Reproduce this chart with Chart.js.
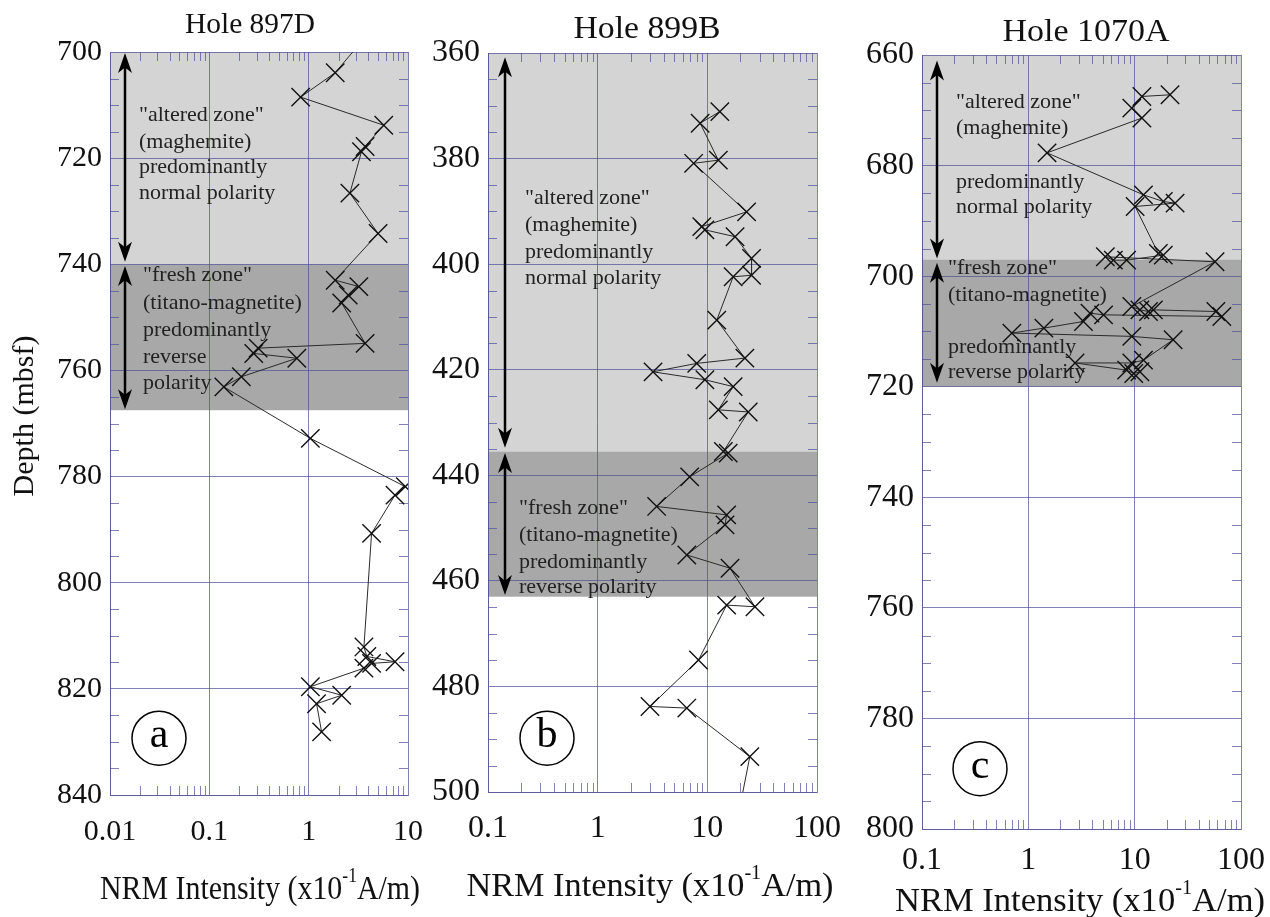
<!DOCTYPE html>
<html>
<head>
<meta charset="utf-8">
<script src="https://cdn.jsdelivr.net/npm/chart.js@4.4.0/dist/chart.umd.min.js"></script>
<style>
  html, body { margin: 0; padding: 0; background: #fff; }
  #wrap { position: relative; width: 1270px; height: 917px; }
  canvas { position: absolute; top: 0; }
</style>
</head>
<body>
<div id="wrap">
  <canvas id="hole897D" width="440" height="917" style="left:0px"></canvas>
  <canvas id="hole899B" width="430" height="917" style="left:420px"></canvas>
  <canvas id="hole1070A" width="420" height="917" style="left:850px"></canvas>
</div>
<script>
// Hole 897D (depth mbsf / NRM x10^-1 A/m), first point sits just above the plotted range
const depth897D = [697.5, 703.9, 708.5, 713.8, 717.8, 718.8, 726.6, 734.2, 743.0, 744.2, 745.8, 747.3,
  754.9, 755.8, 756.8, 757.7, 761.2, 763.1, 772.8, 781.9, 783.5, 790.7, 812.1, 813.9, 814.9, 815.2,
  816.1, 819.6, 821.2, 822.8, 828.1];
const nrm897D = [3.6, 1.85, 0.83, 5.7, 3.7, 3.4, 2.6, 5.0, 1.85, 3.2, 2.5, 2.15,
  3.7, 0.31, 0.28, 0.76, 0.21, 0.14, 1.04, 9.4, 7.4, 4.3, 3.6, 3.85, 7.4, 4.3,
  3.6, 1.04, 2.15, 1.2, 1.35];

// Hole 899B, last point just below the plotted range
const depth899B = [371.1, 373.3, 380.3, 380.9, 390.1, 392.9, 393.5, 394.8, 398.9, 402.1, 402.4, 410.6,
  417.8, 418.8, 420.4, 421.9, 423.2, 427.6, 428.0, 435.5, 435.8, 440.3, 445.9, 447.5, 449.4, 455.1,
  457.6, 464.9, 464.6, 475.0, 483.8, 484.1, 493.3, 501.5];
const nrm899B = [13.0, 8.6, 12.6, 7.5, 22.8, 8.9, 9.5, 17.9, 25.3, 25.3, 17.2, 12.2,
  22.0, 8.0, 3.2, 9.5, 17.2, 12.6, 23.6, 14.0, 15.5, 6.9, 3.45, 15.0, 14.5, 6.5,
  16.1, 27.2, 15.0, 8.3, 3.0, 6.5, 24.4, 20.4];

// Hole 1070A
const depth1070A = [667.2, 667.5, 669.6, 671.4, 677.7, 685.3, 686.5, 686.8, 687.4, 695.9, 696.2, 697.1,
  697.1, 696.5, 697.4, 705.5, 706.1, 706.4, 706.1, 706.4, 707.3, 707.0, 706.7, 708.2, 709.4, 710.3,
  710.9, 711.5, 715.2, 715.7, 715.7, 717.0, 717.6, 717.3];
const nrm1070A = [21.5, 11.7, 9.4, 11.7, 1.5, 12.1, 18.6, 24.0, 10.1, 16.7, 18.6, 8.4,
  6.3, 5.3, 57, 9.4, 11.2, 13.5, 15.0, 58, 66, 5.1, 3.8, 3.3, 1.4, 0.70,
  9.4, 23, 12.1, 9.4, 2.75, 8.4, 9.8, 11.2];

const xTicks897D = [0.01, 0.1, 1, 10];
const xTicks899B = [0.1, 1, 10, 100];
const xTicks1070A = [0.1, 1, 10, 100];
const yTicks897D = [700, 720, 740, 760, 780, 800, 820, 840];
const yTicks899B = [360, 380, 400, 420, 440, 460, 480, 500];
const yTicks1070A = [660, 680, 700, 720, 740, 760, 780, 800];

const SERIF = '"Liberation Serif", "Times New Roman", serif';
const GRID = 'rgba(80, 80, 150, 0.72)';
const LIGHT = '#d4d4d4';
const DARK = '#a8a8a8';

function drawArrowHead(ctx, x, y, dir) {
  const hl = 20, hw = 7;
  ctx.beginPath();
  ctx.moveTo(x, y);
  ctx.lineTo(x - hw, y + dir * hl);
  ctx.lineTo(x, y + dir * hl * 0.72);
  ctx.lineTo(x + hw, y + dir * hl);
  ctx.closePath();
  ctx.fill();
}

function fitText(ctx, parts, cx, cy, size, width) {
  // parts: [text, isSuperscript]
  const measure = p => {
    ctx.font = (p[1] ? Math.round(size * 0.6) : size) + 'px ' + SERIF;
    return ctx.measureText(p[0]).width;
  };
  const total = parts.reduce((s, p) => s + measure(p), 0);
  ctx.save();
  ctx.translate(cx, cy);
  ctx.scale(width / total, 1);
  let x = -total / 2;
  ctx.textAlign = 'left';
  ctx.textBaseline = 'middle';
  parts.forEach(p => {
    const w = measure(p);
    ctx.fillText(p[0], x, p[1] ? -size * 0.38 : 0);
    x += w;
  });
  ctx.restore();
}

function decorPlugin(o) {
  return {
    id: 'decor',
    beforeDraw(chart) {
      const { ctx, chartArea: a, scales: { y } } = chart;
      ctx.save();
      o.zones.forEach(z => {
        const y1 = y.getPixelForValue(z[0]), y2 = y.getPixelForValue(z[1]);
        ctx.fillStyle = z[2];
        ctx.fillRect(a.left, y1, a.right - a.left, y2 - y1);
      });
      ctx.restore();
    },
    beforeDatasetsDraw(chart) {
      const { ctx, chartArea: a, scales: { x, y } } = chart;
      ctx.save();
      // minor ticks, inward on all four sides
      ctx.strokeStyle = GRID;
      ctx.lineWidth = 1;
      ctx.beginPath();
      for (let d = y.min; d <= y.max; d += 5) {
        if (d % 20 === 0) continue;
        const py = Math.round(y.getPixelForValue(d)) + 0.5;
        ctx.moveTo(a.left, py); ctx.lineTo(a.left + 9, py);
        ctx.moveTo(a.right - 9, py); ctx.lineTo(a.right, py);
      }
      for (let dec = x.min; dec < x.max * 0.999; dec *= 10) {
        for (let m = 2; m <= 9; m++) {
          const px = Math.round(x.getPixelForValue(dec * m)) + 0.5;
          ctx.moveTo(px, a.top); ctx.lineTo(px, a.top + 9);
          ctx.moveTo(px, a.bottom - 9); ctx.lineTo(px, a.bottom);
        }
      }
      ctx.stroke();

      // zone arrows
      ctx.strokeStyle = '#000';
      ctx.fillStyle = '#000';
      ctx.lineWidth = 2.5;
      const ax = a.left + o.arrowDx;
      o.arrows.forEach(r => {
        const y1 = y.getPixelForValue(r[0]), y2 = y.getPixelForValue(r[1]);
        ctx.beginPath();
        ctx.moveTo(ax, y1 + 12); ctx.lineTo(ax, y2 - 12);
        ctx.stroke();
        drawArrowHead(ctx, ax, y1, 1);
        drawArrowHead(ctx, ax, y2, -1);
      });

      // zone notes
      ctx.fillStyle = '#222';
      ctx.font = '22px ' + SERIF;
      ctx.textAlign = 'left';
      ctx.textBaseline = 'middle';
      o.notes.forEach(n => ctx.fillText(n[2], a.left + n[0], y.getPixelForValue(n[1])));

      // circled panel letter
      const cx = a.left + o.letter[0], cy = y.getPixelForValue(o.letter[1]);
      ctx.strokeStyle = '#000';
      ctx.lineWidth = 1.5;
      ctx.beginPath();
      ctx.arc(cx, cy, 27, 0, Math.PI * 2);
      ctx.stroke();
      ctx.fillStyle = '#000';
      ctx.font = '42px ' + SERIF;
      ctx.textAlign = 'center';
      ctx.fillText(o.letter[2], cx, cy - 2);
      ctx.restore();
    },
    afterDraw(chart) {
      const { ctx } = chart;
      ctx.save();
      ctx.fillStyle = '#111';
      fitText(ctx, [[o.title, false]], o.titlePos[0], o.titlePos[1], o.titlePos[2], o.titlePos[3]);
      fitText(ctx, [['NRM Intensity (x10', false], ['-1', true], ['A/m)', false]],
        o.xTitle[0], o.xTitle[1], 34, o.xTitle[2]);
      if (o.yTitle) {
        ctx.translate(o.yTitle[0], o.yTitle[1]);
        ctx.rotate(-Math.PI / 2);
        ctx.font = '30px ' + SERIF;
        ctx.textAlign = 'center';
        ctx.textBaseline = 'middle';
        ctx.fillText('Depth (mbsf)', 0, 0);
      }
      ctx.restore();
    }
  };
}

function buildPanel(id, o) {
  const pts = o.depth.map((d, i) => ({ x: o.nrm[i], y: d }));
  const yMin = o.yTicks[0], yMax = o.yTicks[o.yTicks.length - 1];
  const font = { family: SERIF, size: o.fs };
  // the axes boxes take exactly the margin, so the plot area lands where the reference has it
  const axisW = o.area.left, axisH = o.area.bottom;
  return new Chart(document.getElementById(id), {
    type: 'scatter',
    data: {
      datasets: [{
        data: pts,
        showLine: true,
        borderColor: '#2a2a2a',
        borderWidth: 1,
        pointStyle: 'crossRot',
        pointRadius: c => (c.raw && c.raw.y >= yMin && c.raw.y <= yMax) ? 13 : 0,
        pointBorderColor: '#111',
        pointBorderWidth: 1.4,
        pointBackgroundColor: 'transparent'
      }]
    },
    options: {
      responsive: false,
      animation: false,
      events: [],
      layout: { autoPadding: false, padding: { left: 0, bottom: 0, top: o.area.top, right: o.area.right } },
      plugins: { legend: { display: false }, tooltip: { enabled: false } },
      scales: {
        x: {
          type: 'logarithmic',
          min: o.xTicks[0],
          max: o.xTicks[o.xTicks.length - 1],
          afterFit: s => { s.height = axisH; s.paddingLeft = 0; s.paddingRight = 0; },
          afterBuildTicks: s => { s.ticks = o.xTicks.map(v => ({ value: v })); },
          ticks: { autoSkip: false, maxRotation: 0, padding: o.xPad, color: '#111', font, callback: v => String(v) },
          grid: { color: GRID, drawTicks: false },
          border: { color: GRID }
        },
        y: {
          type: 'linear',
          reverse: true,
          min: yMin,
          max: yMax,
          afterFit: s => { s.width = axisW; s.paddingTop = 0; s.paddingBottom = 0; },
          afterBuildTicks: s => { s.ticks = o.yTicks.map(v => ({ value: v })); },
          ticks: { padding: 8, color: '#111', font },
          grid: { color: GRID, drawTicks: false },
          border: { color: GRID }
        }
      }
    },
    plugins: [decorPlugin(o)]
  });
}

buildPanel('hole897D', {
  depth: depth897D, nrm: nrm897D, xTicks: xTicks897D, yTicks: yTicks897D,
  area: { left: 110, right: 32, top: 52, bottom: 122 }, fs: 30, xPad: 19,
  zones: [[700, 740, LIGHT], [740, 767.5, DARK]],
  arrowDx: 15, arrows: [[700.2, 739.5], [740.3, 767.3]],
  notes: [[29, 711.9, '"altered zone"'], [29, 717.0, '(maghemite)'], [29, 721.7, 'predominantly'],
    [29, 726.6, 'normal polarity'], [33, 742.0, '"fresh zone"'], [33, 747.3, '(titano-magnetite)'],
    [33, 752.4, 'predominantly'], [33, 757.5, 'reverse'], [33, 762.4, 'polarity']],
  letter: [49, 829.3, 'a'],
  title: 'Hole 897D', titlePos: [250, 25, 30, 130],
  xTitle: [260, 890, 320],
  yTitle: [25, 416]
});

buildPanel('hole899B', {
  depth: depth899B, nrm: nrm899B, xTicks: xTicks899B, yTicks: yTicks899B,
  area: { left: 68, right: 33, top: 53, bottom: 125 }, fs: 32, xPad: 17,
  zones: [[360, 435.5, LIGHT], [435.5, 463, DARK]],
  arrowDx: 17, arrows: [[360.8, 434.8], [435.8, 462.7]],
  notes: [[37, 387.5, '"altered zone"'], [37, 392.6, '(maghemite)'], [37, 397.7, 'predominantly'],
    [37, 402.6, 'normal polarity'], [31, 446.2, '"fresh zone"'], [31, 451.3, '(titano-magnetite)'],
    [31, 456.4, 'predominantly'], [31, 461.2, 'reverse polarity']],
  letter: [59, 489.8, 'b'],
  title: 'Hole 899B', titlePos: [227, 30, 32, 147],
  xTitle: [230, 887, 367]
});

buildPanel('hole1070A', {
  depth: depth1070A, nrm: nrm1070A, xTicks: xTicks1070A, yTicks: yTicks1070A,
  area: { left: 72, right: 29, top: 55, bottom: 88 }, fs: 32, xPad: 12,
  zones: [[660, 697, LIGHT], [697, 720, DARK]],
  arrowDx: 15, arrows: [[661, 696.8], [697.6, 719.3]],
  notes: [[34, 668.5, '"altered zone"'], [34, 673.2, '(maghemite)'], [34, 683.0, 'predominantly'],
    [34, 687.5, 'normal polarity'], [26, 698.5, '"fresh zone"'], [26, 703.4, '(titano-magnetite)'],
    [26, 712.8, 'predominantly'], [26, 717.3, 'reverse polarity']],
  letter: [58, 789.1, 'c'],
  title: 'Hole 1070A', titlePos: [236, 33, 32, 167],
  xTitle: [230, 902, 370]
});
</script>
</body>
</html>
